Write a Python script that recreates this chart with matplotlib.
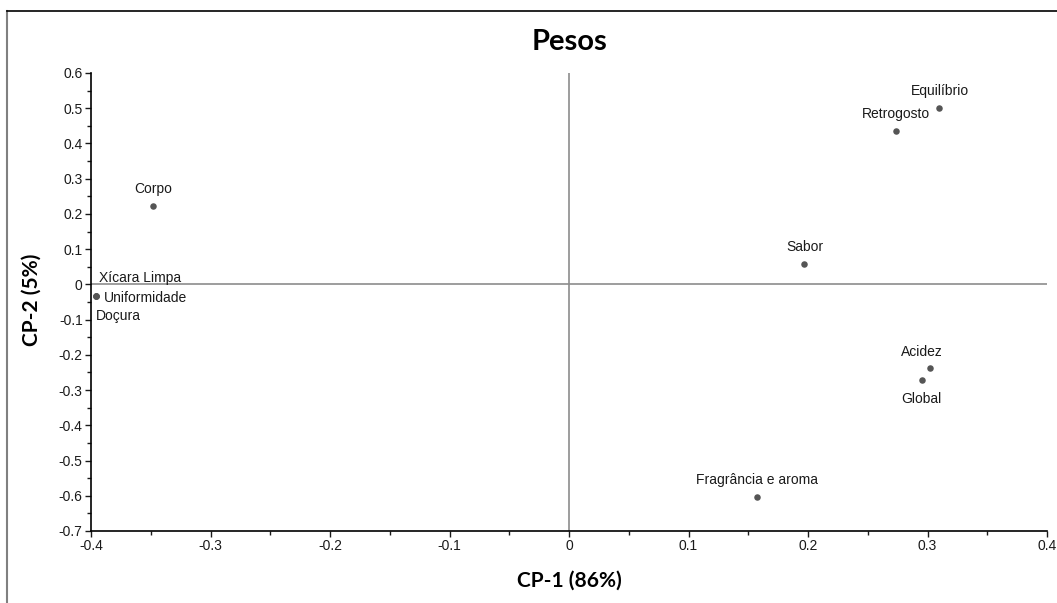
import matplotlib
matplotlib.use("Agg")
import matplotlib.pyplot as plt
from matplotlib.lines import Line2D
from matplotlib.ticker import MultipleLocator, FuncFormatter

# Data
labels = ["Equilíbrio", "Retrogosto", "Corpo", "Sabor", "Xícara Limpa",
          "Uniformidade", "Doçura", "Acidez", "Global", "Fragrância e aroma"]
cp1 = [0.310, 0.274, -0.348, 0.197, -0.396, -0.396, -0.396, 0.302, 0.295, 0.157]
cp2 = [0.501, 0.435, 0.222, 0.058, -0.033, -0.033, -0.033, -0.237, -0.271, -0.604]
# label offsets in pixels (dx, dy) and alignment
offsets = [(0, 17, "center"), (0, 17, "center"), (0, 17, "center"), (0, 17, "center"),
           (3, 18, "left"), (8, -2, "left"), (0, -20, "left"),
           (-8, 16, "center"), (0, -19, "center"), (0, 17, "center")]

plt.rcParams['font.family'] = ['Liberation Sans', 'DejaVu Sans']

fig = plt.figure(figsize=(10.57, 6.03), dpi=100)
ax = fig.add_axes([91/1057, 1-531/603, (1047-91)/1057, (531-73)/603])

ax.axhline(0, color="#8c8c8c", lw=1.2, zorder=1)
ax.axvline(0, color="#8c8c8c", lw=1.2, zorder=1)

ax.scatter(cp1, cp2, s=22, color="#555555", zorder=3, linewidths=0)
for lab, x, y, (dx, dy, ha) in zip(labels, cp1, cp2, offsets):
    ax.annotate(lab, (x, y), xytext=(dx, dy), textcoords="offset pixels",
                ha=ha, va="center", fontsize=10, color="#1a1a1a")

ax.set_xlim(-0.4, 0.4)
ax.set_ylim(-0.7, 0.6)
ax.xaxis.set_major_locator(MultipleLocator(0.1))
ax.xaxis.set_minor_locator(MultipleLocator(0.05))
ax.yaxis.set_major_locator(MultipleLocator(0.1))
ax.yaxis.set_minor_locator(MultipleLocator(0.05))
fmt = FuncFormatter(lambda v, p: "0" if abs(v) < 1e-9 else ("%g" % round(v, 2)))
ax.xaxis.set_major_formatter(fmt)
ax.yaxis.set_major_formatter(fmt)
ax.tick_params(which="major", direction="out", length=4, width=1, labelsize=10, colors="#1a1a1a", pad=2)
ax.tick_params(which="minor", direction="out", length=3, width=1, colors="#1a1a1a")

for s in ["top", "right"]:
    ax.spines[s].set_visible(False)
for s in ["left", "bottom"]:
    ax.spines[s].set_linewidth(1.2)
    ax.spines[s].set_color("black")

fig.text(569/1057, 1-42/603, "Pesos", ha="center", va="center",
         fontsize=21, fontweight="bold", family=["Lato", "DejaVu Sans"])
fig.text(569/1057, 1-581/603, "CP-1 (86%)", ha="center", va="center",
         fontsize=15, fontweight="bold", family=["Lato", "DejaVu Sans"])
fig.text(32/1057, 1-300/603, "CP-2 (5%)", ha="center", va="center", rotation=90,
         fontsize=15, fontweight="bold", family=["Lato", "DejaVu Sans"])

# outer frame (cropped)
fig.add_artist(Line2D([7/1057, 7/1057], [0, 1-11/603], transform=fig.transFigure,
                      color="#808080", lw=1.5))
fig.add_artist(Line2D([7/1057, 1], [1-11/603, 1-11/603], transform=fig.transFigure,
                      color="black", lw=1.2))

fig.savefig("out.png", dpi=100)
